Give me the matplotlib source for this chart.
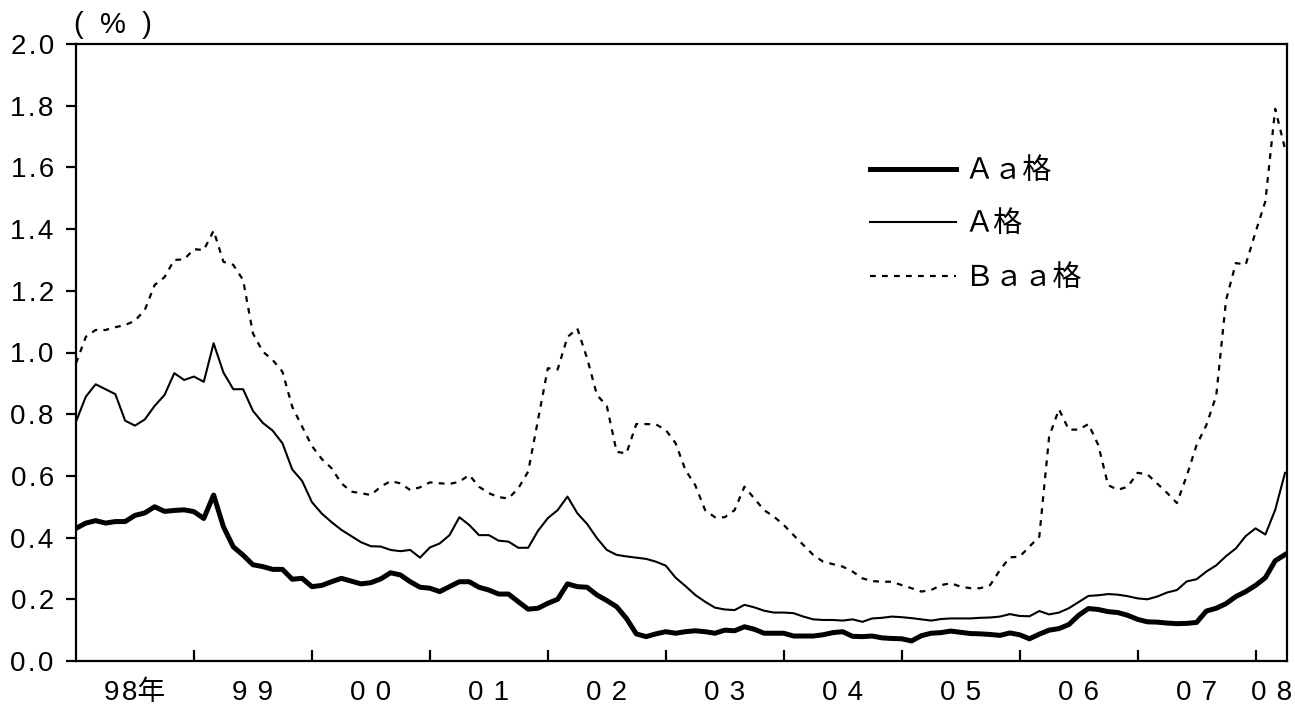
import matplotlib
matplotlib.use('Agg')
import matplotlib.pyplot as plt
import numpy as np

# monthly spreads (%), Jan 1998 - Apr 2008
aa_spread = [
    0.430, 0.447, 0.455, 0.447, 0.452, 0.452, 0.472, 0.480, 0.500, 0.485, 0.488, 0.490,
    0.484, 0.462, 0.538, 0.435, 0.370, 0.343, 0.312, 0.306, 0.297, 0.297, 0.265, 0.268,
    0.241, 0.245, 0.257, 0.268, 0.259, 0.250, 0.254, 0.266, 0.286, 0.279, 0.257, 0.239,
    0.236, 0.225, 0.241, 0.257, 0.257, 0.239, 0.230, 0.217, 0.217, 0.192, 0.168, 0.171,
    0.187, 0.200, 0.250, 0.241, 0.239, 0.214, 0.196, 0.176, 0.138, 0.088, 0.079, 0.088,
    0.095, 0.090, 0.095, 0.098, 0.095, 0.090, 0.100, 0.098, 0.111, 0.103, 0.090, 0.090,
    0.090, 0.081, 0.081, 0.081, 0.085, 0.092, 0.095, 0.080, 0.079, 0.081, 0.075, 0.073,
    0.072, 0.065, 0.082, 0.090, 0.092, 0.097, 0.093, 0.089, 0.088, 0.086, 0.083, 0.091,
    0.085, 0.072, 0.087, 0.100, 0.105, 0.118, 0.148, 0.170, 0.167, 0.160, 0.157, 0.148,
    0.135, 0.127, 0.126, 0.123, 0.121, 0.122, 0.125, 0.162, 0.171, 0.186, 0.209, 0.225,
    0.245, 0.270, 0.325, 0.345,
]
a_spread = [
    0.776, 0.857, 0.897, 0.881, 0.865, 0.779, 0.763, 0.783, 0.827, 0.862, 0.933, 0.911,
    0.922, 0.905, 1.030, 0.935, 0.881, 0.881, 0.811, 0.772, 0.747, 0.706, 0.621, 0.584,
    0.515, 0.478, 0.450, 0.425, 0.405, 0.385, 0.372, 0.371, 0.360, 0.356, 0.360, 0.335,
    0.368, 0.381, 0.408, 0.466, 0.441, 0.408, 0.408, 0.390, 0.387, 0.367, 0.367, 0.422,
    0.463, 0.489, 0.533, 0.479, 0.444, 0.398, 0.360, 0.344, 0.339, 0.335, 0.331, 0.322,
    0.309, 0.270, 0.243, 0.214, 0.192, 0.173, 0.167, 0.165, 0.182, 0.174, 0.163, 0.157,
    0.157, 0.155, 0.144, 0.135, 0.133, 0.133, 0.131, 0.135, 0.127, 0.138, 0.140, 0.144,
    0.142, 0.139, 0.135, 0.131, 0.136, 0.138, 0.138, 0.138, 0.140, 0.141, 0.144, 0.152,
    0.146, 0.145, 0.162, 0.151, 0.157, 0.171, 0.191, 0.211, 0.213, 0.217, 0.215, 0.210,
    0.203, 0.200, 0.209, 0.222, 0.230, 0.258, 0.265, 0.290, 0.310, 0.340, 0.365, 0.405,
    0.430, 0.410, 0.490, 0.610,
]
baa_spread = [
    0.965, 1.051, 1.073, 1.073, 1.082, 1.089, 1.103, 1.138, 1.219, 1.244, 1.300, 1.302,
    1.335, 1.332, 1.395, 1.294, 1.284, 1.235, 1.062, 1.003, 0.976, 0.938, 0.824, 0.760,
    0.697, 0.655, 0.625, 0.576, 0.549, 0.544, 0.538, 0.565, 0.583, 0.576, 0.554, 0.563,
    0.579, 0.576, 0.574, 0.581, 0.603, 0.565, 0.544, 0.531, 0.527, 0.560, 0.614, 0.781,
    0.949, 0.945, 1.050, 1.078, 0.981, 0.862, 0.827, 0.678, 0.673, 0.768, 0.768, 0.767,
    0.749, 0.706, 0.619, 0.570, 0.489, 0.466, 0.466, 0.489, 0.565, 0.527, 0.489, 0.468,
    0.441, 0.408, 0.376, 0.344, 0.322, 0.314, 0.306, 0.290, 0.268, 0.259, 0.257, 0.257,
    0.246, 0.236, 0.225, 0.230, 0.246, 0.252, 0.241, 0.236, 0.236, 0.246, 0.295, 0.336,
    0.338, 0.371, 0.403, 0.727, 0.816, 0.750, 0.750, 0.768, 0.700, 0.570, 0.555, 0.565,
    0.610, 0.605, 0.575, 0.545, 0.512, 0.600, 0.700, 0.765, 0.860, 1.170, 1.290, 1.285,
    1.390, 1.490, 1.790, 1.660,
]
year_labels = ['98年', '99', '00', '01', '02', '03', '04', '05', '06', '07', '08']
series_labels = ['Ａａ格', 'Ａ格', 'Ｂａａ格']

plt.rcParams['font.family'] = ['Liberation Sans', 'Noto Sans CJK JP']

HAIR = '\u200a'


def spaced(s, gap=HAIR):
    # letter-spaced text, like the original typesetting
    return gap.join(s)


W, H = 1295, 711
fig = plt.figure(figsize=(W / 100, H / 100), dpi=100)
ax = fig.add_axes([76 / W, 50 / H, (1287 - 76) / W, (661 - 44) / H])

x = np.arange(len(aa_spread))
l_baa, = ax.plot(x, baa_spread, color='black', lw=1.6, linestyle=(0, (2.6, 2.8)))
l_a, = ax.plot(x, a_spread, color='black', lw=1.5)
l_aa, = ax.plot(x, aa_spread, color='black', lw=3.6, solid_joinstyle='round')

ax.set_xlim(0, len(aa_spread) - 0.8)
ax.set_ylim(0, 2.0)

# y axis
yt = np.arange(0, 2.01, 0.2)
ax.set_yticks(yt)
ax.set_yticklabels([spaced(f'{v:.1f}') for v in yt], fontsize=20)
ax.tick_params(axis='y', direction='out', length=7, width=1.6, pad=9)

# x axis: year boundaries as ticks, labels centered inside each year
n_years = len(year_labels)
ax.set_xticks(np.arange(12, 12 * n_years, 12))
ax.set_xticklabels([])
ax.tick_params(axis='x', which='major', direction='in', length=8, width=1.6)
mids = [6 + 12 * k for k in range(n_years - 1)]
mids.append((12 * (n_years - 1) + ax.get_xlim()[1]) / 2)
ax.set_xticks(mids, minor=True)
xlabels = [spaced(year_labels[0][:2]) + year_labels[0][2:]]
xlabels += [spaced(s, ' ' + HAIR) for s in year_labels[1:]]
ax.set_xticklabels(xlabels, minor=True, fontsize=20)
ax.tick_params(axis='x', which='minor', length=0, pad=14)

for s in ax.spines.values():
    s.set_linewidth(1.6)

fig.text(74 / W, 1 - 25 / H, '(  %  )', fontsize=21, va='center', ha='left')

ax.legend([l_aa, l_a, l_baa], series_labels, loc='upper left',
          bbox_to_anchor=(870 / W, 1 - 157 / H), bbox_transform=fig.transFigure,
          frameon=False, fontsize=21, handlelength=2.95, handletextpad=0.3,
          labelspacing=0.87, borderpad=0, borderaxespad=0)

fig.savefig('out.png', dpi=100)
